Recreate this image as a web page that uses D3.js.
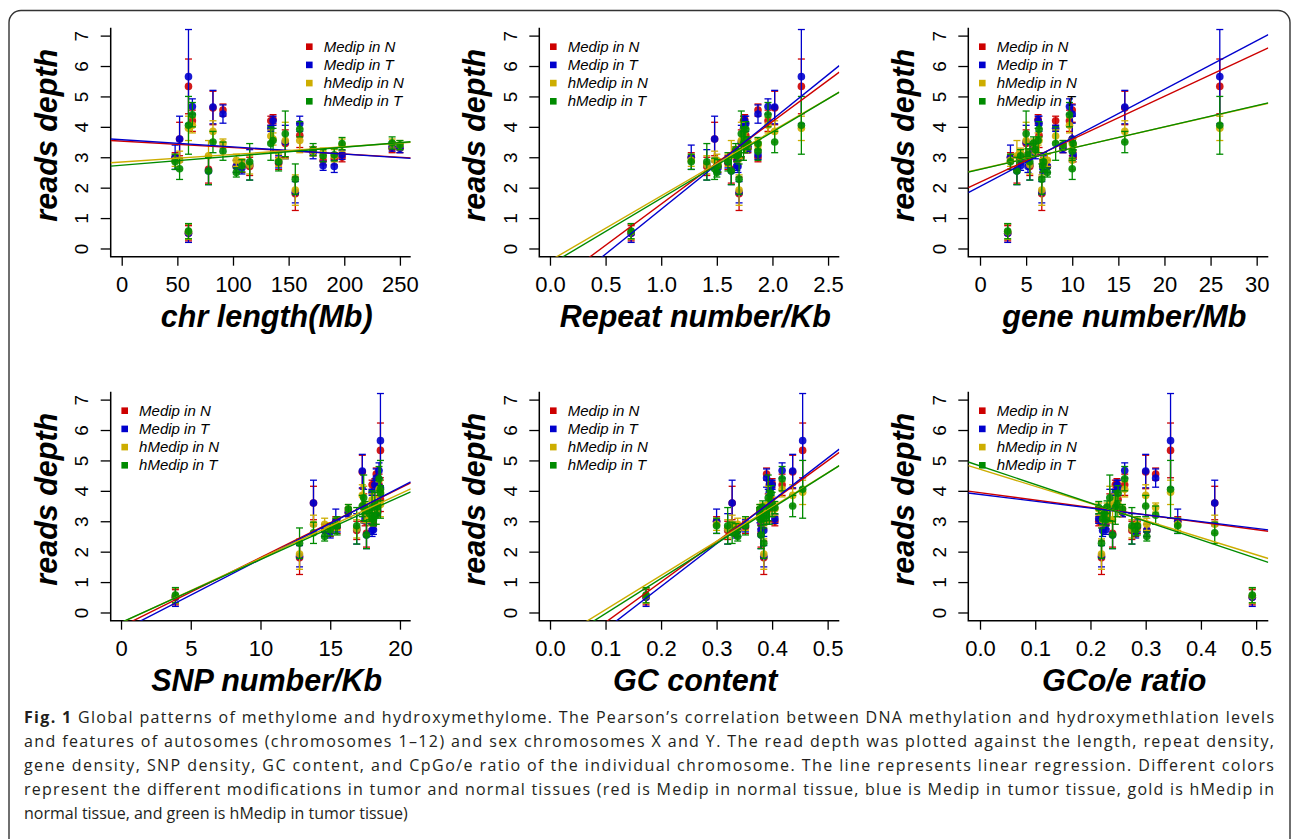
<!DOCTYPE html>
<meta charset="utf-8">
<title>Global patterns of methylome and hydroxymethylome</title>
<style>
  body { margin: 0; background: #fff; }
  svg text { font-family: "Liberation Sans", Arial, Helvetica, sans-serif; }
  .caption { font-family: "Open Sans", "Noto Sans", sans-serif !important; fill: #231f20; }
</style>
<body>
<div id="fig"></div>
<script src="https://d3js.org/d3.v7.min.js"></script>
<script>

// one entry per chromosome
var medipN  = [3.0, 3.6, 5.33, 0.5, 4.2, 2.6, 4.62, 4.55, 2.7, 2.7, 2.7, 4.2, 4.25, 2.8, 3.45, 1.8, 3.72, 3.2, 2.9, 2.95, 3.0, 3.3, 3.3];
var medipT  = [3.0, 3.6, 5.65, 0.5, 4.67, 2.55, 4.65, 4.42, 2.7, 2.65, 2.75, 3.95, 4.2, 2.85, 3.5, 1.85, 4.1, 3.15, 2.72, 2.7, 3.08, 3.35, 3.3];
var hmedipN = [2.9, 2.9, 3.95, 0.55, 4.05, 3.05, 3.85, 3.45, 2.9, 2.8, 2.75, 3.7, 3.6, 2.9, 3.55, 1.92, 3.55, 3.2, 3.15, 3.05, 3.4, 3.45, 3.4];
var hmedipT = [2.85, 2.62, 4.05, 0.57, 4.4, 2.55, 3.5, 3.2, 2.5, 2.72, 2.85, 3.45, 3.55, 2.85, 3.77, 2.28, 3.92, 3.25, 3.05, 3.08, 3.45, 3.47, 3.4];

// half length of the error bars
var errMedipN  = [0.15, 0.55, 0.9, 0.25, 0.35, 0.45, 0.55, 0.2, 0.2, 0.2, 0.3, 0.15, 0.15, 0.2, 0.45, 0.55, 0.4, 0.15, 0.15, 0.2, 0.15, 0.15, 0.15];
var errMedipT  = [0.4, 0.75, 1.55, 0.3, 0.25, 0.45, 0.55, 0.3, 0.2, 0.2, 0.5, 0.1, 0.15, 0.2, 0.55, 0.35, 0.25, 0.2, 0.15, 0.2, 0.15, 0.15, 0.15];
var errHmedipN = [0.2, 0.3, 0.4, 0.25, 0.25, 0.5, 0.35, 0.15, 0.2, 0.15, 0.3, 0.2, 0.2, 0.2, 0.6, 0.5, 0.4, 0.15, 0.15, 0.2, 0.2, 0.15, 0.15];
var errHmedipT = [0.25, 0.35, 0.95, 0.25, 0.4, 0.45, 0.35, 0.3, 0.15, 0.2, 0.6, 0.55, 0.4, 0.3, 0.75, 0.5, 0.25, 0.2, 0.2, 0.2, 0.2, 0.2, 0.15];

// chromosome features (x of each panel)
var chrLength   = [48, 52, 60, 60, 63.5, 78, 82, 91, 103, 108, 115, 134, 136, 141, 147, 156, 160, 172, 181, 191, 198, 243, 250];
var repeatPerKb = [1.27, 1.48, 2.26, 0.73, 1.96, 1.63, 2.02, 1.87, 1.50, 1.51, 1.41, 1.74, 1.75, 1.60, 1.72, 1.70, 1.76, 1.67, 1.68, 1.69, 1.87, 1.78, 1.77];
var genePerMb   = [3.3, 10.0, 26.0, 3.0, 9.7, 4.0, 15.7, 10.0, 7.3, 6.8, 5.4, 8.2, 6.3, 6.9, 5.0, 6.7, 6.4, 6.0, 4.4, 5.2, 10.1, 5.8, 9.0];
var snpPerKb    = [15.4, 13.8, 18.6, 3.9, 18.5, 17.6, 17.3, 18.3, 14.6, 15.0, 16.9, 18.0, 18.2, 15.5, 17.4, 12.8, 18.6, 17.8, 18.1, 18.0, 17.5, 18.4, 16.3];
var gcContent   = [0.300, 0.328, 0.455, 0.173, 0.418, 0.380, 0.437, 0.390, 0.338, 0.335, 0.320, 0.395, 0.400, 0.352, 0.393, 0.385, 0.398, 0.378, 0.380, 0.385, 0.405, 0.383, 0.378];
var cpgRatio    = [0.358, 0.425, 0.345, 0.493, 0.262, 0.240, 0.300, 0.318, 0.302, 0.282, 0.275, 0.245, 0.248, 0.285, 0.235, 0.220, 0.250, 0.225, 0.228, 0.222, 0.215, 0.230, 0.258];

// regression lines [intercept, slope] per series
var fitLength = [[3.529, -0.00211], [3.577, -0.00237], [2.845, 0.00249], [2.739, 0.00297]];
var fitRepeat = [[-1.25, 2.71], [-1.66, 2.95], [-0.40, 2.13], [-0.53, 2.18]];
var fitGene   = [[2.18, 0.1414], [2.04, 0.1596], [2.61, 0.0693], [2.60, 0.0700]];
var fitSnp    = [[-0.47, 0.228], [-0.61, 0.236], [-0.34, 0.212], [-0.33, 0.207]];
var fitGc     = [[-1.65, 13.27], [-1.96, 14.07], [-1.03, 11.24], [-1.19, 11.55]];
var fitCpg    = [[3.94, -2.43], [3.88, -2.23], [4.71, -5.62], [4.82, -6.08]];

var ticksLength = [0, 50, 100, 150, 200, 250];
var ticksRepeat = [0, 0.5, 1, 1.5, 2, 2.5];
var ticksGene   = [0, 5, 10, 15, 20, 25, 30];
var ticksSnp    = [0, 5, 10, 15, 20];
var ticksGc     = [0, 0.1, 0.2, 0.3, 0.4, 0.5];
var ticksDepth  = [0, 1, 2, 3, 4, 5, 6, 7];

var seriesNames  = ["Medip in N", "Medip in T", "hMedip in N", "hMedip in T"];
var seriesColors = ["#cd0000", "#0000cd", "#cdad00", "#008b00"];

var captionLines = [
  "Global patterns of methylome and hydroxymethylome. The Pearson\u2019s correlation between DNA methylation and hydroxymethlation levels",
  "and features of autosomes (chromosomes 1\u201312) and sex chromosomes X and Y. The read depth was plotted against the length, repeat density,",
  "gene density, SNP density, GC content, and CpGo/e ratio of the individual chromosome. The line represents linear regression. Different colors",
  "represent the different modifications in tumor and normal tissues (red is Medip in normal tissue, blue is Medip in tumor tissue, gold is hMedip in",
  "normal tissue, and green is hMedip in tumor tissue)"
];

var values = [medipN, medipT, hmedipN, hmedipT];
var errors = [errMedipN, errMedipT, errHmedipN, errHmedipT];

var panels = [
  {x: chrLength,   title: "chr length(Mb)",   domain: [-9.9, 259.7],     ticks: ticksLength, fmt: d3.format("d"),   legend: "right", fit: fitLength},
  {x: repeatPerKb, title: "Repeat number/Kb", domain: [-0.096, 2.601],   ticks: ticksRepeat, fmt: d3.format(".1f"), legend: "left",  fit: fitRepeat},
  {x: genePerMb,   title: "gene number/Mb",   domain: [-1.27, 31.26],    ticks: ticksGene,   fmt: d3.format("d"),   legend: "left",  fit: fitGene},
  {x: snpPerKb,    title: "SNP number/Kb",    domain: [-0.74, 20.77],    ticks: ticksSnp,    fmt: d3.format("d"),   legend: "left",  fit: fitSnp},
  {x: gcContent,   title: "GC content",       domain: [-0.0193, 0.521],  ticks: ticksGc,     fmt: d3.format(".1f"), legend: "left",  fit: fitGc},
  {x: cpgRatio,    title: "GCo/e ratio",      domain: [-0.0212, 0.522],  ticks: ticksGc,     fmt: d3.format(".1f"), legend: "left",  fit: fitCpg}
];

// page layout
var W = 1293, H = 839;
var colX = [110.7, 539.3, 968.3], rowY = [27.7, 391.7];
var boxW = 300, boxH = 229;

var svg = d3.select("#fig").append("svg")
    .attr("width", W)
    .attr("height", H);

// frame round the figure
svg.append("rect")
    .attr("x", 9).attr("y", 10.5)
    .attr("width", 1281).attr("height", 860)
    .attr("rx", 12)
    .attr("fill", "none")
    .attr("stroke", "#333")
    .attr("stroke-width", 1.4);

var y = d3.scaleLinear().domain([-0.27, 7.26]).range([boxH, 0]);

panels.forEach(function(p, i) {
  var g = svg.append("g")
      .attr("transform", "translate(" + colX[i % 3] + "," + rowY[Math.floor(i / 3)] + ")");

  var x = d3.scaleLinear().domain(p.domain).range([0, boxW]);

  g.append("clipPath").attr("id", "clip" + i)
    .append("rect").attr("width", boxW).attr("height", boxH);

  // axes
  var xa = g.append("g")
      .attr("transform", "translate(0," + boxH + ")")
      .call(d3.axisBottom(x).tickValues(p.ticks).tickFormat(p.fmt).tickSize(9).tickSizeOuter(0));
  xa.select(".domain").remove();
  xa.selectAll("line").attr("stroke-width", 1.3);
  xa.selectAll("text")
      .attr("y", 35).attr("dy", 0)
      .attr("font-size", 22).attr("fill", "#000");

  var ya = g.append("g")
      .call(d3.axisLeft(y).tickValues(ticksDepth).tickSize(10).tickSizeOuter(0));
  ya.select(".domain").remove();
  ya.selectAll("line").attr("stroke-width", 1.3);
  ya.selectAll("text")
      .attr("x", 0).attr("y", -22.7).attr("dy", 0)
      .attr("text-anchor", "middle")
      .attr("transform", "rotate(-90)")
      .attr("font-size", 19).attr("fill", "#000");

  // L shaped box
  g.append("path")
      .attr("d", "M0,0V" + boxH + "H" + boxW)
      .attr("fill", "none")
      .attr("stroke", "#000")
      .attr("stroke-width", 1.5);

  // titles
  g.append("text")
      .attr("x", boxW / 2 + 6).attr("y", boxH + 70.5)
      .attr("text-anchor", "middle")
      .attr("font-size", 30.5).attr("font-weight", "bold").attr("font-style", "italic")
      .text(p.title);
  g.append("text")
      .attr("transform", "translate(-54," + (boxH / 2 - 7) + ") rotate(-90)")
      .attr("text-anchor", "middle")
      .attr("font-size", 30.5).attr("font-weight", "bold").attr("font-style", "italic")
      .text("reads depth");

  // error bars and points, series by series
  values.forEach(function(vals, s) {
    var col = seriesColors[s];
    var bars = g.append("g").attr("stroke", col).attr("stroke-width", 1.3);
    vals.forEach(function(v, j) {
      var cx = x(p.x[j]), lo = y(v - errors[s][j]), hi = y(v + errors[s][j]);
      bars.append("line").attr("x1", cx).attr("x2", cx).attr("y1", lo).attr("y2", hi);
      bars.append("line").attr("x1", cx - 3.5).attr("x2", cx + 3.5).attr("y1", lo).attr("y2", lo);
      bars.append("line").attr("x1", cx - 3.5).attr("x2", cx + 3.5).attr("y1", hi).attr("y2", hi);
    });
    g.append("g").selectAll("circle")
        .data(vals)
        .enter()
        .append("circle")
          .attr("cx", function(d, j) { return x(p.x[j]); })
          .attr("cy", function(d) { return y(d); })
          .attr("r", 3.8)
          .attr("fill", col)
          .attr("fill-opacity", 0.9);
  });

  // legend
  var lx = p.legend == "right" ? 198.6 : 14;
  var leg = g.append("g").attr("transform", "translate(" + lx + ",19)");
  seriesNames.forEach(function(name, s) {
    leg.append("rect")
        .attr("x", -3.3).attr("y", s * 18.2 - 3.3)
        .attr("width", 6.6).attr("height", 6.6)
        .attr("fill", seriesColors[s]);
    leg.append("text")
        .attr("x", 14.4).attr("y", s * 18.2 + 5.2)
        .attr("font-size", 15).attr("font-style", "italic")
        .text(name);
  });

  // regression lines
  var lines = g.append("g").attr("clip-path", "url(#clip" + i + ")");
  p.fit.forEach(function(f, s) {
    lines.append("line")
        .attr("x1", x(p.domain[0])).attr("y1", y(f[0] + f[1] * p.domain[0]))
        .attr("x2", x(p.domain[1])).attr("y2", y(f[0] + f[1] * p.domain[1]))
        .attr("stroke", seriesColors[s])
        .attr("stroke-width", 1.4);
  });
});

// caption
var cap = svg.append("g").attr("class", "caption");
captionLines.forEach(function(line, k) {
  var t = cap.append("text")
      .attr("class", "caption")
      .attr("x", 24).attr("y", 722.7 + k * 24)
      .attr("font-size", 16);
  if (k == 0) {
    t.append("tspan").attr("font-weight", "bold").text("Fig. 1");
    t.append("tspan").text(" " + line);
  } else {
    t.text(line);
  }
  if (k < captionLines.length - 1) {
    t.attr("textLength", 1250).attr("lengthAdjust", "spacing");
  }
});

</script>
</body>
